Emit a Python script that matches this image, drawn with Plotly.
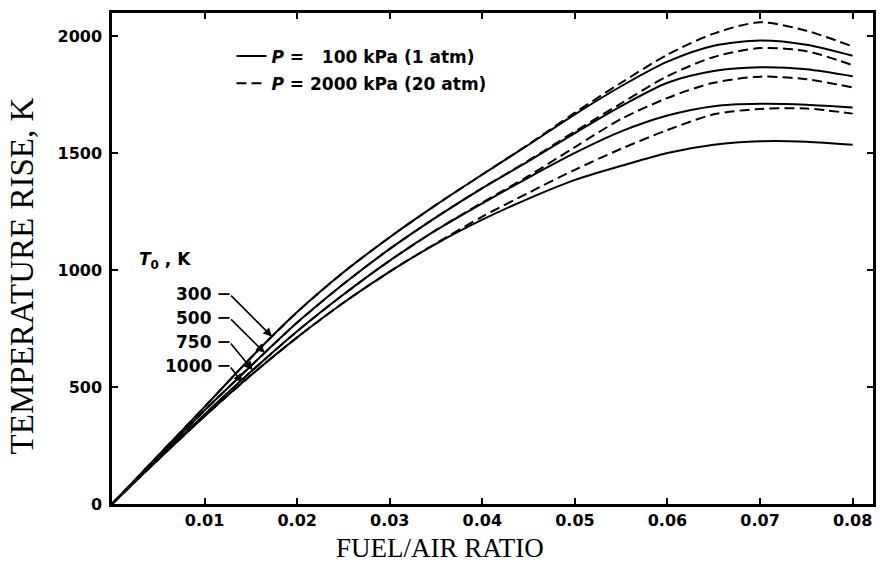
import numpy as np
import plotly.graph_objects as go

# ---------------- data ----------------
fuel_air = [0.0, 0.005, 0.01, 0.015, 0.02, 0.025, 0.03, 0.035, 0.04,
            0.045, 0.05, 0.055, 0.06, 0.065, 0.07, 0.075, 0.08]

# P = 100 kPa (solid)
s300 = [0, 208, 415, 625, 820, 990, 1140, 1278, 1408, 1535, 1665, 1785, 1890, 1958, 1980, 1962, 1915]
s500 = [0, 200, 400, 590, 775, 940, 1090, 1225, 1350, 1465, 1585, 1700, 1800, 1850, 1866, 1858, 1828]
s750 = [0, 193, 383, 565, 738, 895, 1040, 1170, 1285, 1395, 1500, 1592, 1660, 1700, 1710, 1706, 1694]
s1000 = [0, 190, 375, 550, 712, 860, 993, 1112, 1215, 1305, 1385, 1445, 1500, 1535, 1550, 1548, 1535]

# P = 2000 kPa (dashed)
d300 = [0, 208, 415, 625, 820, 990, 1140, 1278, 1408, 1537, 1672, 1800, 1920, 2010, 2058, 2022, 1955]
d500 = [0, 200, 400, 590, 775, 940, 1090, 1225, 1350, 1468, 1592, 1712, 1828, 1910, 1948, 1935, 1875]
d750 = [0, 193, 383, 565, 738, 895, 1040, 1170, 1288, 1402, 1525, 1645, 1735, 1800, 1826, 1815, 1780]
d1000 = [0, 190, 375, 550, 712, 860, 993, 1114, 1228, 1330, 1428, 1518, 1598, 1665, 1688, 1690, 1668]

t0_labels = ["300", "500", "750", "1000"]
x_ticks = [0.01, 0.02, 0.03, 0.04, 0.05, 0.06, 0.07, 0.08]
y_ticks = [0, 500, 1000, 1500, 2000]
legend_names = ["<b><i>P</i> =\u00a0\u00a0\u00a0100 kPa (1 atm)</b>", "<b><i>P</i> = 2000 kPa (20 atm)</b>"]

solid_series = [s300, s500, s750, s1000]
dashed_series = [d300, d500, d750, d1000]

# ---------------- figure ----------------
SANS = "DejaVu Sans"
SERIF = "Liberation Serif"
fig = go.Figure()

for i, ys in enumerate(solid_series):
    fig.add_trace(go.Scatter(
        x=fuel_air, y=ys, mode="lines",
        line=dict(color="black", width=2, shape="spline", smoothing=0.8),
        name=legend_names[0], legendgroup="p100", showlegend=(i == 0),
        hoverinfo="skip"))
for i, ys in enumerate(dashed_series):
    fig.add_trace(go.Scatter(
        x=fuel_air, y=ys, mode="lines",
        line=dict(color="black", width=2, shape="spline", smoothing=0.8, dash="10px,5px"),
        name=legend_names[1], legendgroup="p2000", showlegend=(i == 0),
        hoverinfo="skip"))

# T0 labels with leaders/arrows
label_y = [897, 795, 692, 590]
tip_f = [0.0173, 0.0165, 0.0152, 0.0141]
annotations = []
shapes = []
for lab, ly, tf, ys in zip(t0_labels, label_y, tip_f, solid_series):
    ty = float(np.interp(tf, fuel_air, ys))
    annotations.append(dict(x=0.0110, y=ly, xref="x", yref="y", text=f"<b>{lab}</b>",
                            showarrow=False, xanchor="right", yanchor="middle",
                            font=dict(family=SANS, size=17, color="black")))
    shapes.append(dict(type="line", xref="x", yref="y", x0=0.0115, x1=0.0127, y0=ly, y1=ly,
                       line=dict(color="black", width=1.8)))
    annotations.append(dict(x=tf, y=ty, ax=0.0127, ay=ly, xref="x", yref="y",
                            axref="x", ayref="y", text="", showarrow=True,
                            arrowhead=2, arrowsize=1.1, arrowwidth=1.6, arrowcolor="black",
                            standoff=0))

annotations.append(dict(x=0.0057, y=1040, xref="x", yref="y",
                        text="<b><i>T</i><sub>0</sub> , K</b>", showarrow=False,
                        xanchor="center", yanchor="middle",
                        font=dict(family=SANS, size=17, color="black")))

# axis titles
annotations.append(dict(x=0.4306, y=-0.0896, xref="paper", yref="paper",
                        text="FUEL/AIR RATIO", showarrow=False,
                        xanchor="center", yanchor="middle",
                        font=dict(family=SERIF, size=27, color="black")))
annotations.append(dict(x=-0.118, y=0.464, xref="paper", yref="paper",
                        text="TEMPERATURE RISE, K", showarrow=False, textangle=-90,
                        xanchor="center", yanchor="middle",
                        font=dict(family=SERIF, size=33, color="black")))

fig.update_layout(
    width=880, height=568,
    margin=dict(l=112, r=4, t=13, b=64),
    paper_bgcolor="white", plot_bgcolor="white",
    showlegend=True,
    legend=dict(x=0.157, y=0.948, xanchor="left", yanchor="top",
                bgcolor="rgba(0,0,0,0)", itemwidth=30, tracegroupgap=2,
                font=dict(family=SANS, size=17, color="black")),
    annotations=annotations,
    shapes=shapes,
)

fig.update_xaxes(range=[0, 0.0822], tickvals=x_ticks,
                 ticktext=[f"<b>{v:.2f}</b>" for v in x_ticks],
                 ticks="inside", ticklen=6, tickwidth=1.5, tickcolor="black",
                 showline=True, linewidth=2.5, linecolor="black", mirror="allticks",
                 showgrid=False, zeroline=False,
                 tickfont=dict(family=SANS, size=16, color="black"))
fig.update_yaxes(range=[0, 2098], tickvals=y_ticks,
                 ticktext=[f"<b>{v}</b>" for v in y_ticks],
                 ticks="inside", ticklen=6, tickwidth=1.5, tickcolor="black",
                 showline=True, linewidth=2.5, linecolor="black", mirror="allticks",
                 showgrid=False, zeroline=False, ticklabelstandoff=4,
                 tickfont=dict(family=SANS, size=16, color="black"))

fig.write_html("out.html")
